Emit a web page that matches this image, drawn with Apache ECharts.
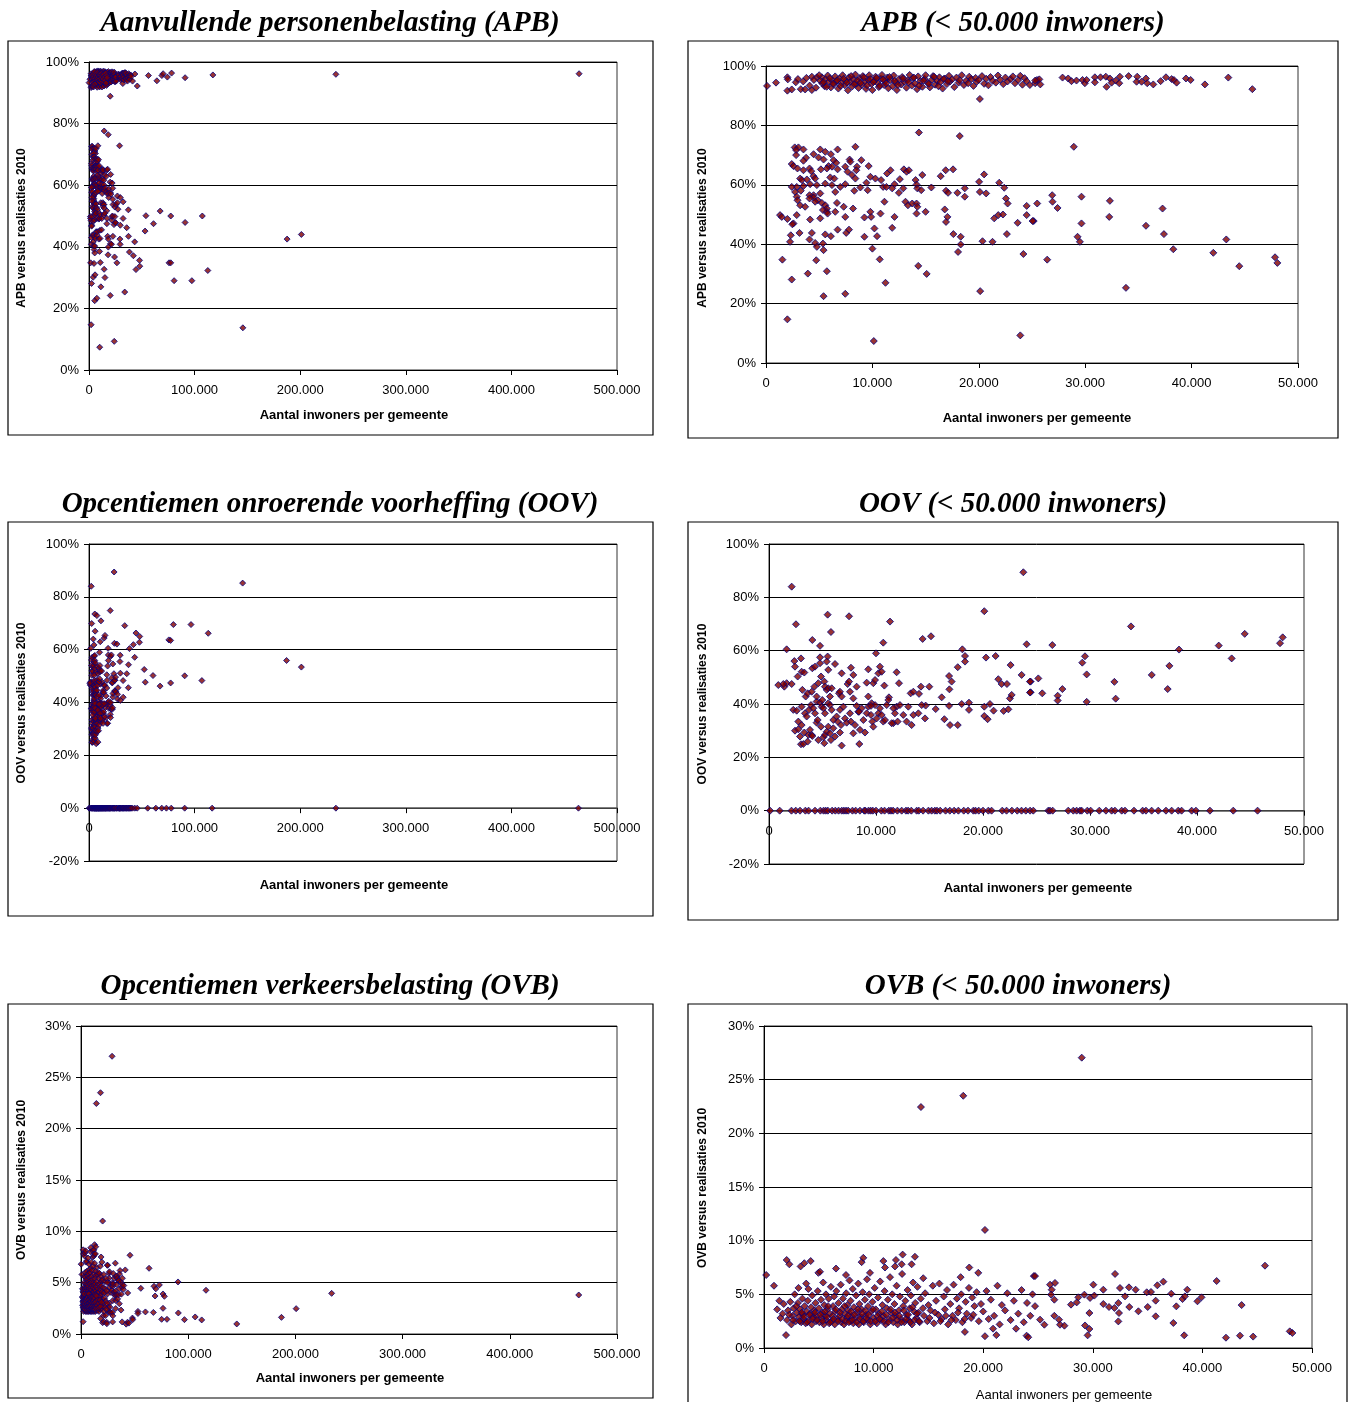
<!DOCTYPE html>
<html>
<head>
<meta charset="utf-8">
<script src="https://cdn.jsdelivr.net/npm/echarts@6/dist/echarts.min.js"></script>
<style>
  html, body { margin: 0; padding: 0; background: #fff; }
  #main { width: 1350px; height: 1402px; }
</style>
</head>
<body>
<div id="main"></div>
<script>
// [inwoners, % versus realisaties 2010]
const apbSmall = [
  [100,93.3],[940,94.4],[2010,96.2],[2050,95.5],[2010,91.7],[2420,92.1],[2800,94.5],[3270,92.2],[3680,92.1],[4310,91.9],[4310,96.4],[4780,96.2],[5250,96.2],
  [5100,95.0],[5300,94.1],[5500,93.2],[5600,95.6],[5800,96.8],[5900,94.7],[6100,92.8],[6200,95.3],[6400,93.9],[6500,96.5],[6600,94.9],[6800,92.4],[6900,95.8],
  [7100,94.3],[7200,96.9],[7400,93.5],[7500,95.1],[7700,91.8],[7800,96.2],[7900,94.6],[8100,93.1],[8200,95.5],[8400,97.1],[8500,94.0],[8700,92.6],[8800,95.9],
  [9000,93.7],[9100,96.6],[9300,94.8],[9400,92.3],[9600,95.4],[9700,96.9],[9900,93.9],[10000,91.9],[10200,95.0],[10300,96.4],[10500,94.2],[10600,92.9],
  [10800,95.7],[10900,97.0],[11100,93.6],[11200,94.9],[11400,96.1],[11500,92.5],[11700,95.3],[11900,93.2],[12000,96.8],[12200,94.4],[12300,91.9],[12500,95.6],
  [12700,93.8],[12800,96.3],[13000,94.7],[13200,92.7],[13300,95.2],[13500,97.0],[13700,93.4],[13800,95.9],[14000,94.1],[14200,92.2],[14300,96.5],[14500,94.9],
  [14700,93.0],[14900,95.7],[15000,96.9],[15200,94.3],[15400,92.8],[15600,95.4],[15700,96.6],[15900,93.7],[16100,95.0],[16300,96.2],[16400,94.6],[16600,92.4],
  [16800,95.8],[17000,93.9],[17200,96.7],[17300,94.8],[17500,95.5],[17700,92.9],[17900,96.1],[18100,94.4],[18200,95.2],[18400,96.9],[18600,93.6],[18800,95.0],
  [19000,94.2],[19100,96.4],[19300,95.6],[19500,93.3],[19700,96.0],[19800,94.7],[20000,95.3],[20100,88.9],[20300,96.6],[20500,94.0],[20700,95.7],[20900,93.5],
  [21100,96.3],[21300,95.0],[21600,94.4],[21800,96.8],[22000,95.4],[22300,93.9],[22500,96.1],[22700,94.8],[23000,95.6],[23200,96.5],[23400,94.2],[23700,95.3],
  [23900,96.7],[24100,93.7],[24300,95.9],[24500,94.9],
  [3000,95.6],[3500,94.8],[3800,96.0],[4100,93.4],[4500,95.3],[4700,92.7],[5000,96.9],[5400,94.5],[5700,93.0],[6000,95.9],[6300,94.0],[6700,95.2],[7000,93.3],
  [7300,95.7],[7600,94.4],[8000,96.6],[8300,93.9],[8600,95.1],[8900,94.3],[9200,96.2],[9500,93.5],[9800,95.6],[10100,94.6],[10400,96.0],[10700,93.3],[11000,95.5],
  [11300,94.1],[11600,96.3],[12100,95.0],[12400,93.6],[12900,95.8],[13400,94.5],[13900,96.1],[14400,93.4],[14800,95.1],[15300,94.0],[15800,96.4],[16200,93.2],
  [16700,95.6],[17100,94.9],
  [24800,93.6],[25300,94.2],[25470,95.3],[25690,95.5],[25780,93.8],[25300,95.1],[27870,96.1],[28400,95.8],[28710,94.9],[29180,95.1],[29750,95.3],[29970,94.2],
  [30130,95.3],[30910,96.2],[30910,94.5],[31440,96.2],[31940,96.4],[32320,95.8],[32480,94.4],[32010,93.0],[32880,95.1],[33260,96.4],[33200,94.2],[34080,96.6],
  [34890,96.4],[34830,94.7],[35300,94.7],[35710,95.8],[35830,94.2],[36400,93.8],[37090,94.9],[37590,96.2],[38120,95.6],[38340,95.3],[38590,94.4],[39470,95.8],
  [39910,95.3],[41250,93.8],[43450,96.1],[45710,92.2],
  [14370,77.6],[18210,76.4],[2700,72.6],[3050,72.6],[3520,71.9],[2830,71.7],[5100,71.9],[5570,71.1],[6100,70.3],[6730,71.9],[8400,72.8],[2830,70.0],[4470,70.3],
  [3770,69.1],[4940,69.2],[5410,68.5],[3520,68.1],[2420,67.0],[2580,66.3],[6350,68.3],[6600,67.4],[7860,68.5],[7930,67.8],[8960,68.3],[5880,66.3],[2960,65.5],
  [3520,64.9],[4090,65.5],[4250,64.6],[5160,65.2],[5720,65.5],[6200,66.1],[6730,65.2],[7450,66.1],[7670,64.4],[8550,66.1],[8490,64.9],[9650,66.3],[11700,64.9],
  [11380,63.8],[12960,65.2],[13210,64.4],[13430,64.9],[16890,64.9],[17580,65.2],[3210,62.1],[3370,61.6],[3840,61.8],[4470,62.9],[4620,62.1],[6040,62.5],[6420,62.1],
  [8080,63.3],[8400,62.1],[9810,62.7],[10280,62.1],[10820,61.6],[12580,61.9],[14060,61.6],[14690,63.3],[16420,62.9],[20030,61.0],[20500,63.5],[21920,60.7],
  [3520,59.6],[2890,59.3],[4150,60.2],[4780,59.9],[5570,60.4],[6200,59.9],[6980,59.3],[7450,60.2],[8870,59.1],[9440,60.7],[9560,58.2],[11010,59.3],[11320,59.3],
  [12080,60.2],[11860,58.8],[12900,58.8],[14150,60.1],[14220,58.8],[2420,59.3],[2740,57.6],[3270,58.0],[4470,56.5],[5100,57.1],[6510,57.6],[8300,58.0],[12490,57.3],
  [14590,58.2],[15540,59.1],[16920,58.0],[17110,57.3],[18680,58.8],[18680,56.0],[17990,57.3],[20100,57.6],[20690,57.1],[22390,59.0],[22550,55.4],[22710,53.7],
  [4090,56.5],[4470,55.7],[4870,54.8],[4090,55.4],[4620,54.3],[2890,56.0],[2960,54.8],[3210,53.1],[3680,52.6],[5250,53.9],[5570,53.1],[5720,52.0],[5350,51.5],
  [6670,53.9],[7300,52.6],[8180,52.0],[11130,54.3],[13110,54.3],[13340,53.1],[13740,53.7],[14150,53.7],[16800,51.7],[1320,49.8],[1480,49.2],[2010,48.5],[2580,47.0],
  [2890,49.8],[4150,48.3],[5100,48.7],[5720,50.9],[5790,50.3],[6510,50.9],[7450,49.2],[9250,49.0],[9880,49.2],[9810,50.9],[10760,50.3],[12080,49.2],[14150,50.3],
  [15000,50.9],[16920,47.5],[17050,49.2],[21450,48.7],[21830,49.8],[22270,50.0],[23650,47.2],[24500,49.8],[24500,52.9],[25160,47.8],[2480,46.7],[3150,43.8],
  [2330,43.0],[2260,40.8],[4310,43.8],[4090,41.6],[4620,40.4],[4780,39.1],[5350,40.2],[5410,38.0],[5570,43.3],[6100,42.7],[6730,44.9],[7540,43.8],[7800,44.9],
  [9250,42.5],[10190,45.3],[10440,42.7],[10000,38.5],[11860,45.5],[14220,52.6],[17610,43.4],[18300,42.5],[18300,39.9],[18050,37.4],[20350,41.0],[21290,40.8],
  [22640,43.4],[1540,34.8],[4720,34.6],[10690,34.9],[24190,36.7],[2420,28.1],[3930,30.1],[5720,30.9],[5410,22.5],[7450,23.3],[11230,27.0],[14310,32.7],[15100,30.0],
  [20130,24.2],[2010,14.7],[10130,7.4],[23900,9.3],
  [28930,72.8],[25490,53.7],[26900,56.5],[26930,54.3],[27400,52.2],[25050,47.8],[26430,34.8],[29650,56.0],[29650,47.0],[29280,42.5],[29500,40.8],[32320,54.6],
  [32260,49.2],[33830,25.3],[35710,46.2],[37270,52.0],[37400,43.4],[38280,38.3],[42040,37.1],[43260,41.6],[44480,32.6],[47840,35.6],[48060,33.7]
];
const apbLarge = [
  [56300,95.6],[64300,93.9],[69000,95.6],[70200,96.2],[74200,95.1],[78200,96.4],[91000,94.9],[117300,95.8],[233800,96.0],[464100,96.2],
  [53900,50.1],[53100,45.1],[61100,47.5],[67400,51.6],[77400,50.0],[75800,34.8],[77400,34.8],[80600,29.0],[91000,47.9],[97400,29.0],[107300,50.0],
  [112500,32.3],[145700,13.7],[187600,42.5],[201100,44.0]
];

const oovSmall = [
  [2120,84.0],[23770,89.4],[1650,60.5],[2520,69.9],[5480,73.5],[7480,72.9],[5790,67.0],[11310,70.9],[4050,64.0],[4770,61.8],[10680,63.0],[14360,64.4],[15140,65.4],
  [20120,74.8],[18070,60.5],[18320,58.0],[18320,55.9],[20280,57.4],[21180,58.0],[24080,62.4],[1430,46.5],[1650,47.8],[2120,47.5],[2370,56.1],[2430,54.0],
  [2990,57.1],[3050,52.1],[2680,50.3],[3300,51.8],[4050,53.4],[4300,54.0],[4770,55.3],[4770,57.5],[5480,57.8],[5390,55.9],[5540,52.8],[6170,55.0],[6790,51.5],
  [7660,53.6],[7880,50.9],[9280,53.0],[10000,59.0],[10220,51.5],[10370,54.0],[10530,52.1],[10780,46.9],[11930,51.9],[12150,47.8],[11210,42.5],[11150,41.5],
  [11930,39.0],[11620,32.8],[13240,44.0],[13490,44.6],[14020,43.8],[14200,46.5],[14980,46.5],[14640,39.4],[15580,38.1],[16140,42.5],[16830,50.5],[16860,45.5],
  [17070,48.4],[16830,39.3],[16390,34.3],[16920,32.1],[17640,32.1],[17640,53.8],[18010,40.0],[18690,40.5],[18690,37.8],[20120,39.0],[20120,35.5],[20430,34.3],
  [20650,40.0],[20990,37.5],[21430,49.3],[21740,47.5],[22240,47.5],[21930,37.4],[22370,38.0],[22520,42.1],[22680,43.4],[22580,54.6],[23610,50.9],[24450,48.4],
  [24450,44.4],[870,47.1],[1340,47.5],
  [2270,37.8],[2590,37.5],[2740,33.4],[3050,32.1],[2430,30.0],[2740,30.5],[2900,27.8],[2990,24.9],[3210,25.0],[3610,25.9],[3300,29.3],[3680,28.4],[3830,30.3],
  [3990,28.4],[4050,28.0],[4300,36.5],[4450,33.0],[4550,34.0],[4610,26.5],[4860,31.5],[5080,27.5],[5170,25.3],[5230,28.4],[5390,29.6],[5540,31.5],[5700,29.0],
  [5790,26.5],[6010,30.9],[6170,27.8],[6320,35.3],[6420,33.4],[6630,37.8],[6630,29.3],[6730,32.1],[6790,24.4],[6950,39.0],[7100,34.6],[7260,33.0],[7570,36.5],
  [7660,33.4],[7880,29.0],[8040,32.1],[8190,39.3],[8350,37.1],[8440,25.0],[8500,30.3],[8660,38.4],[8820,34.0],[8970,29.3],[9130,36.5],[9280,39.0],[9530,35.9],
  [9590,40.3],[9660,33.4],[9750,31.5],[9910,39.6],[10060,34.6],[10220,36.5],[10370,38.4],[10680,33.4],[11000,39.6],[11460,32.8],[11620,38.4],[11770,36.5],
  [12020,33.4],[12240,39.6],[12550,35.9],[12860,33.4],[13020,39.0],[13330,32.1],[13490,35.9],[13960,36.5],[14270,39.6],[14580,34.6],[3050,39.0],[3360,36.5],
  [3520,35.3],[3740,37.8],[3920,39.6],[4140,38.4],[4450,40.9],[4770,40.5],[4920,39.0],[5080,38.4],[5230,36.5],[5540,40.3],[5700,39.6],[5860,37.8],[6010,34.0],
  [3120,45.3],[3430,42.8],[3610,44.0],[3990,44.6],[4240,46.5],[4450,42.8],[4610,47.8],[4860,50.3],[4980,41.5],[5170,48.4],[5230,46.5],[5390,45.3],[5540,45.9],
  [5700,42.8],[5860,45.9],[6540,44.0],[6630,44.6],[6790,42.8],[7350,47.5],[7480,48.4],[7570,44.6],[7880,42.1],[8190,46.5],[8410,37.1],[9130,48.0],[9280,42.8],
  [9530,39.3],[9750,47.8],[9910,49.0],[10530,35.9],[10840,34.0],
  [24390,48.4],[24390,44.3],[25170,49.6],[25540,44.0],[26480,62.1],[26980,43.1],[26980,41.3],[27420,45.6],[29280,55.5],[29530,57.9],[29690,51.1],[29690,40.8],
  [32280,48.3],[32400,42.0],[33830,69.1],[35770,50.9],[37420,54.3],[37260,45.6],[38320,60.4],[42030,61.9],[43240,57.1],[44460,66.3],[47760,62.8],[48010,65.0],
  [100,0],[1000,0],[2100,0],[2500,0],[2900,0],[3400,0],[3700,0],[4300,0],[4800,0],[5100,0],[5300,0],[5500,0],[5900,0],[6200,0],[6500,0],[6800,0],[7000,0],
  [7200,0],[7400,0],[7800,0],[8100,0],[8500,0],[8900,0],[9000,0],[9300,0],[9500,0],[9700,0],[10000,0],[10500,0],[10800,0],[11200,0],[11400,0],[11600,0],
  [12000,0],[12400,0],[12800,0],[13000,0],[13300,0],[13800,0],[14000,0],[14400,0],[14900,0],[15200,0],[15500,0],[15700,0],[16000,0],[16500,0],[16900,0],
  [17300,0],[17700,0],[18200,0],[18600,0],[19100,0],[19300,0],[19600,0],[20000,0],[20500,0],[20800,0],[21800,0],[22200,0],[22700,0],[23200,0],[23600,0],
  [24000,0],[24400,0],[24700,0],[26100,0],[26260,0],[26510,0],[27970,0],[28440,0],[28750,0],[29060,0],[29220,0],[29750,0],[30060,0],[30870,0],[31490,0],
  [32020,0],[32330,0],[32960,0],[33270,0],[34110,0],[34920,0],[35230,0],[35760,0],[36380,0],[37100,0],[37630,0],[38250,0],[38560,0],[39500,0],[39900,0],
  [41210,0],[43390,0],[45660,0]
];
const oovLarge = [
  [145500,85.2],[79900,69.5],[96600,69.5],[112900,66.2],[75600,63.7],[77300,63.5],[52300,52.5],[60600,50.2],[53300,47.7],[67300,46.2],[77300,47.4],
  [90600,50.1],[106900,48.3],[187100,55.9],[201100,53.4],
  [55600,0],[63300,0],[68900,0],[73300,0],[77900,0],[90600,0],[116600,0],[233800,0],[463500,0]
];

const ovbSmall = [
  [14320,22.45],[18180,23.5],[20160,11.0],[200,6.8],[910,5.8],[2070,8.2],[2310,7.8],[3340,7.6],[3680,7.9],[4260,8.1],[4960,7.0],[5110,7.1],[6570,7.4],[7480,6.8],
  [8910,8.0],[9060,8.4],[9670,7.0],[10890,8.1],[11040,7.5],[12040,8.2],[11950,7.6],[12650,8.7],[12560,7.8],[13470,7.8],[13770,8.5],[14530,6.5],[18730,7.5],
  [19550,7.0],[17940,6.6],[24620,6.7],[2010,1.2],[18330,1.5],[20160,1.1],[21200,1.2],[20900,1.8],[23960,1.15],[24110,1.0],
  [28990,27.05],[45710,7.67],[41300,6.24],[32030,6.9],[36440,6.18],[35890,5.84],[26100,5.9],[26550,6.06],[26250,5.43],[26190,4.97],[26490,4.5],[24730,6.7],
  [24730,3.9],[25190,2.64],[25580,2.17],[26490,3.0],[26920,2.64],[27010,2.17],[27410,2.08],[28010,4.04],[28530,4.25],[28680,4.72],[29230,4.97],[29750,4.66],
  [30140,4.88],[30050,5.9],[29690,3.26],[29290,2.1],[29690,1.77],[29530,1.18],[30960,5.43],[30960,4.1],[31480,3.82],[31970,3.73],[32330,4.19],[32390,3.26],
  [32330,2.48],[32480,5.59],[32940,4.81],[33300,5.65],[33330,3.82],[33910,5.43],[34160,3.42],[34920,5.19],[35310,5.22],[35010,3.82],[35740,4.41],[35740,2.95],
  [37160,5.06],[37620,3.88],[37350,2.33],[38190,4.56],[38400,4.81],[38620,5.43],[38340,1.18],[39550,4.35],[39920,4.72],[42150,0.96],[43430,1.15],[43580,4.0],
  [44630,1.06],[47970,1.55],[48210,1.4],
  [1200,3.6],[1400,4.4],[1500,2.8],[1700,3.2],[1800,4.1],[2100,2.6],[2200,3.5],[2400,4.3],[2500,2.2],[2600,3.0],[2700,3.7],[2800,5.0],[2900,2.5],[3000,3.3],
  [3100,4.2],[3150,5.6],[3200,2.9],[3300,3.6],[3400,2.4],[3500,4.6],[3550,3.1],[3600,2.7],[3700,3.9],[3800,2.3],[3850,6.0],[3900,3.4],[4000,4.4],[4050,5.5],
  [4100,2.6],[4200,3.2],[4300,3.8],[4350,2.2],[4400,4.9],[4500,2.9],[4600,3.5],[4700,4.2],[4750,2.5],[4800,3.0],[4900,5.3],[5000,3.7],[5050,2.4],[5200,4.5],
  [5250,2.8],[5300,3.3],[5400,6.1],[5450,2.2],[5500,4.0],[5600,3.0],[5650,5.0],[5700,2.6],[5800,3.6],[5900,4.6],[5950,2.3],
  [6000,3.2],[6100,5.7],[6200,2.5],[6300,3.9],[6400,4.8],[6450,2.2],[6500,3.4],[6600,5.3],[6700,2.7],[6800,4.2],[6900,3.0],[7000,5.9],[7050,2.4],[7100,3.6],
  [7200,4.6],[7300,2.2],[7400,3.2],[7500,5.1],[7550,2.8],[7600,4.0],[7700,3.5],[7800,6.3],[7850,2.5],[7900,4.4],[8000,3.0],[8100,5.5],[8150,2.3],[8200,3.8],
  [8300,2.7],[8400,4.9],[8500,3.3],[8600,6.0],[8650,2.2],[8700,4.1],[8800,2.9],[8900,3.6],[9000,5.2],[9100,2.4],[9200,4.5],[9300,3.1],[9400,6.4],[9450,2.6],
  [9500,3.9],[9600,5.0],[9700,2.2],[9800,3.4],[9900,4.3],
  [10000,2.8],[10100,5.6],[10200,3.6],[10300,2.3],[10400,4.7],[10500,3.2],[10600,6.2],[10700,2.6],[10800,4.0],[10900,3.0],[11000,5.3],[11100,2.2],[11200,3.7],
  [11300,4.5],[11400,2.7],[11500,6.6],[11600,3.3],[11700,5.0],[11800,2.4],[11900,4.1],[12000,3.0],[12100,5.8],[12200,2.2],[12300,3.5],[12400,4.8],[12500,2.7],
  [12600,6.9],[12700,3.9],[12800,2.4],[12900,4.4],[13000,3.1],[13100,5.4],[13200,2.6],[13300,3.7],[13400,4.9],[13500,2.2],[13600,6.1],[13700,3.4],[13800,4.2],
  [13900,2.8],[14000,5.7],[14100,3.3],[14200,2.4],[14300,4.6],
  [14600,3.0],[14700,5.1],[14900,2.5],[15000,4.0],[15200,3.5],[15400,5.8],[15500,2.3],[15700,4.4],[15900,3.1],[16000,6.0],[16200,2.7],[16400,4.8],[16500,3.6],
  [16700,5.4],[16800,2.2],[17000,4.1],[17200,3.0],[17300,5.9],[17500,2.6],[17600,4.6],[17800,3.7],[18000,5.0],[18100,2.4],[18400,4.3],[18500,3.2],[18700,5.6],
  [18900,2.8],[19000,4.7],[19200,3.9],[19400,5.2],[19600,2.5],[19800,4.1],
  [20000,3.4],[20300,5.3],[20500,2.7],[20700,4.5],[21000,3.0],[21300,5.8],[21500,2.2],[21700,4.0],[22000,3.5],[22200,5.1],[22500,2.6],[22800,4.4],[23000,1.8],
  [23200,3.2],[23500,5.4],[23700,2.4],[24000,4.2],[24300,3.0],[24500,5.0],
  [2300,3.1],[2650,2.6],[2950,3.9],[3250,2.5],[3450,3.3],[3650,2.9],[3950,2.4],[4150,3.1],[4450,2.7],[4650,3.3],[4850,2.6],[5150,3.1],[5350,2.5],[5550,3.4],
  [5750,2.9],[5850,3.9],[6050,2.4],[6250,3.0],[6350,2.7],[6550,3.6],[6750,2.5],[6950,3.3],[7150,2.7],[7350,3.9],[7450,2.5],[7650,3.0],[7750,2.4],[7950,3.4],
  [8050,2.6],[8250,3.1],[8450,2.4],[8550,3.6],[8750,2.7],[8950,3.2],[9050,2.5],[9250,3.5],[9350,2.8],[9550,3.1],[9750,2.5],[9950,3.6],[10150,2.5],[10350,3.0],
  [10550,2.7],[10750,3.4],[10950,2.5],[11150,3.1],[11350,2.4],[11550,3.6],[11750,2.8],[11950,3.3],[12150,2.6],[12350,3.0],[12550,2.4],[12750,3.5],[12950,2.7],
  [13150,3.1],[13350,2.4],[13550,3.8],[13750,2.6],[13950,3.2],[14150,2.5],[14500,3.7],[15100,2.8],[15600,3.3],[16100,2.5],[16600,3.0],[17100,2.6],[17700,3.3],
  [18300,2.7],[19100,3.1]
];
const ovbLarge = [
  [55800,4.45],[63500,6.4],[53100,2.2],[53100,2.0],[60100,2.15],[67500,2.1],[68100,4.65],[69800,4.4],[73100,4.78],[69100,3.7],[76500,3.9],[77800,3.67],
  [76500,2.5],[75200,1.43],[80200,1.43],[90500,5.07],[90800,2.05],[96500,1.4],[106500,1.66],[112600,1.37],[116600,4.26],[145300,0.98],[187000,1.62],
  [200700,2.47],[233800,3.96],[464300,3.8]
];

const titles = [
  'Aanvullende personenbelasting (APB)', 'APB (< 50.000 inwoners)',
  'Opcentiemen onroerende voorheffing (OOV)', 'OOV (< 50.000 inwoners)',
  'Opcentiemen verkeersbelasting (OVB)', 'OVB (< 50.000 inwoners)'
];
const yNames = ['APB versus realisaties 2010', 'APB versus realisaties 2010', 'OOV versus realisaties 2010',
  'OOV versus realisaties 2010', 'OVB versus realisaties 2010', 'OVB versus realisaties 2010'];
const xName = 'Aantal inwoners per gemeente';

const panelData = [
  apbSmall.concat(apbLarge), apbSmall,
  oovSmall.concat(oovLarge), oovSmall,
  ovbSmall.concat(ovbLarge), ovbSmall
];

// layout per panel
const panels = [
  { box: [8, 41, 645, 394], grid: [89, 62, 528, 308], title: [330, 24], xn: [354, 415], yn: [22, 228], xmax: 500000, xint: 100000, ymin: 0, ymax: 100, yint: 20, sym: 6 },
  { box: [688, 41, 650, 397], grid: [766, 66, 532, 297], title: [1013, 24], xn: [1037, 418], yn: [703, 228], xmax: 50000, xint: 10000, ymin: 0, ymax: 100, yint: 20, sym: 7 },
  { box: [8, 522, 645, 394], grid: [89, 544, 528, 317], title: [330, 505], xn: [354, 885], yn: [22, 703], xmax: 500000, xint: 100000, ymin: -20, ymax: 100, yint: 20, sym: 6 },
  { box: [688, 522, 650, 398], grid: [769, 544, 535, 320], title: [1013, 505], xn: [1038, 888], yn: [703, 704], xmax: 50000, xint: 10000, ymin: -20, ymax: 100, yint: 20, sym: 7 },
  { box: [8, 1004, 645, 394], grid: [81, 1026, 536, 308], title: [330, 987], xn: [350, 1378], yn: [22, 1180], xmax: 500000, xint: 100000, ymin: 0, ymax: 30, yint: 5, sym: 6 },
  { box: [688, 1004, 659, 420], grid: [764, 1026, 548, 322], title: [1018, 987], xn: [1064, 1395], yn: [703, 1188], xmax: 50000, xint: 10000, ymin: 0, ymax: 30, yint: 5, sym: 7, xnPlain: true }
];

const fmtPop = v => v === 0 ? '0' : (v / 1000).toFixed(0) + '.000';
const sans = 'Liberation Sans, Arial, sans-serif';

const grids = [], xAxes = [], yAxes = [], series = [], graphics = [];
panels.forEach((p, i) => {
  // x axis sits on the 0% line: shift it up from the bottom edge
  const zeroShift = p.ymin < 0 ? -p.grid[3] * (-p.ymin) / (p.ymax - p.ymin) : 0;
  grids.push({ left: p.grid[0], top: p.grid[1], width: p.grid[2], height: p.grid[3],
    show: true, borderColor: '#333', borderWidth: 1, backgroundColor: '#fff' });
  xAxes.push({
    type: 'value', gridIndex: i, min: 0, max: p.xmax, interval: p.xint, offset: zeroShift,
    axisLine: { show: true, onZero: false, lineStyle: { color: p.ymin < 0 ? '#555' : '#000', width: p.ymin < 0 ? 1.5 : 1 } },
    axisTick: { show: true, length: 5, lineStyle: { color: '#000' } },
    axisLabel: { color: '#000', fontSize: 13, fontFamily: sans, margin: 14, formatter: fmtPop },
    splitLine: { show: false }
  });
  yAxes.push({
    type: 'value', gridIndex: i, min: p.ymin, max: p.ymax, interval: p.yint,
    axisLine: { show: true, onZero: false, lineStyle: { color: '#000' } },
    axisTick: { show: true, length: 5, lineStyle: { color: '#000' } },
    axisLabel: { color: '#000', fontSize: 13, fontFamily: sans, margin: 10, formatter: '{value}%' },
    splitLine: { show: true, lineStyle: { color: '#000', width: 1 } }
  });
  series.push({
    type: 'scatter', xAxisIndex: i, yAxisIndex: i, data: panelData[i],
    symbol: 'diamond', symbolSize: p.sym,
    itemStyle: { color: '#800000', borderColor: '#000080', borderWidth: 1 },
    emphasis: { disabled: true }, animation: false, z: 3
  });
  graphics.push({ type: 'rect', shape: { x: p.box[0], y: p.box[1], width: p.box[2], height: p.box[3] },
    style: { fill: 'none', stroke: '#000', lineWidth: 1.2 }, z: 0 });
  graphics.push({ type: 'text', x: p.title[0], y: p.title[1],
    style: { text: titles[i], font: 'italic bold 29px "Liberation Serif", "Times New Roman", serif', fill: '#000', textAlign: 'center', textVerticalAlign: 'middle' } });
  graphics.push({ type: 'text', x: p.xn[0], y: p.xn[1],
    style: { text: xName, font: (p.xnPlain ? '' : 'bold ') + '13px "Liberation Sans", Arial, sans-serif', fill: '#000', textAlign: 'center', textVerticalAlign: 'middle' } });
  graphics.push({ type: 'text', x: p.yn[0], y: p.yn[1], rotation: Math.PI / 2,
    style: { text: yNames[i], font: 'bold 12px "Liberation Sans", Arial, sans-serif', fill: '#000', textAlign: 'center', textVerticalAlign: 'middle' } });
});

const chart = echarts.init(document.getElementById('main'), null, { renderer: 'canvas' });
chart.setOption({
  backgroundColor: '#fff',
  animation: false,
  grid: grids,
  xAxis: xAxes,
  yAxis: yAxes,
  series: series,
  graphic: graphics
});
</script>
</body>
</html>
